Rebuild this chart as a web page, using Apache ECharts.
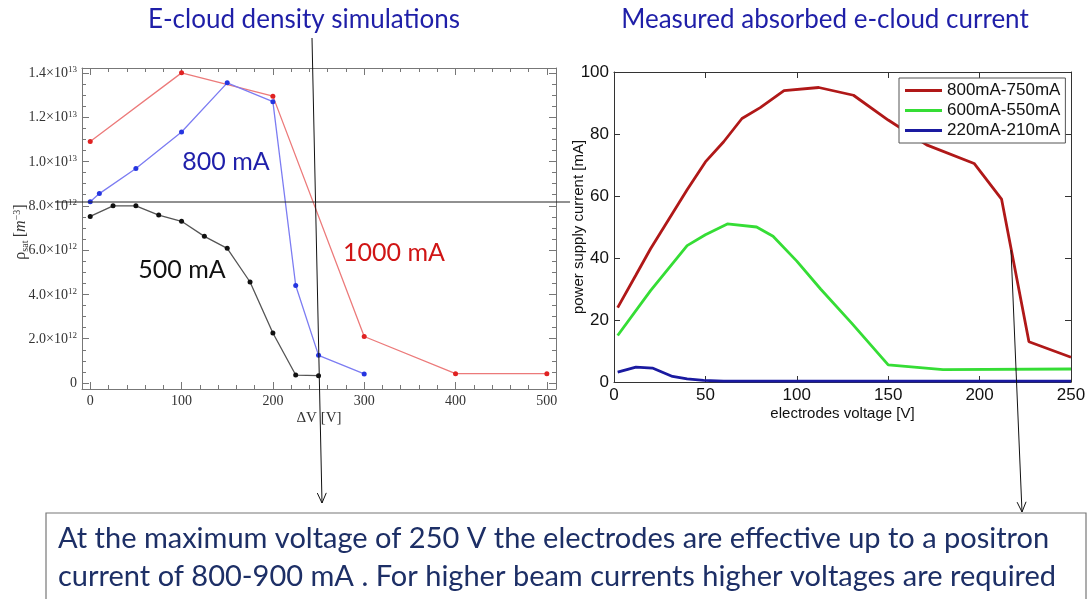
<!DOCTYPE html>
<html>
<head>
<meta charset="utf-8">
<script src="https://cdn.jsdelivr.net/npm/echarts@6/dist/echarts.min.js"></script>
<style>
  html, body { margin: 0; padding: 0; background: #fff; }
  #chart { width: 1089px; height: 599px; }
</style>
</head>
<body>
<div id="chart"></div>
<script>
// ---- Simulated e-cloud density (rho_sat in units of 1e12 m^-3) vs electrode voltage ----
const dv1000 = [0, 100, 200, 300, 400, 500];
const rho1000 = [10.9, 14.0, 12.95, 2.1, 0.42, 0.42];
const dv800 = [0, 10, 50, 100, 150, 200, 225, 250, 300];
const rho800 = [8.18, 8.55, 9.68, 11.33, 13.55, 12.7, 4.4, 1.25, 0.41];
const dv500 = [0, 25, 50, 75, 100, 125, 150, 175, 200, 225, 250];
const rho500 = [7.52, 8.0, 8.0, 7.58, 7.3, 6.62, 6.08, 4.56, 2.26, 0.36, 0.33];
const simTicksX = [0, 100, 200, 300, 400, 500];
const simTicksY = [0, 2, 4, 6, 8, 10, 12, 14];

// ---- Measured absorbed current [mA] vs electrodes voltage [V] ----
const u800 = [2, 12, 20, 30, 40, 50, 60, 70, 80, 93, 112, 131, 150, 171, 197, 212, 227, 250];
const i800 = [24, 34.5, 43, 52.5, 62, 71, 77.5, 85, 88.5, 94, 95, 92.5, 84.5, 76.5, 70.5, 59, 13, 8];
const u600 = [2, 20, 40, 50, 62, 78, 87, 100, 113, 130, 150, 180, 250];
const i600 = [15, 29.5, 44, 47.5, 51, 50, 47, 39, 30, 19, 5.5, 4, 4.2];
const u220 = [2, 12, 21, 32, 40, 49, 60, 250];
const i220 = [3.2, 4.8, 4.5, 1.8, 1.0, 0.5, 0.3, 0.3];
const measNames = ['800mA-750mA', '600mA-550mA', '220mA-210mA'];

const zip = (xs, ys) => xs.map((x, k) => [x, ys[k]]);
const range = (a, b, s) => { const r = []; for (let v = a; v <= b + 1e-9; v += s) r.push(+v.toFixed(6)); return r; };
const minorOf = (all, major) => all.filter(v => !major.some(m => Math.abs(m - v) < 1e-6));

const SERIF = '"Liberation Serif", "DejaVu Serif", serif';
const SANS = '"Liberation Sans", Arial, sans-serif';
const HUMAN = 'Lato, "Open Sans", sans-serif';

const frame = { lineStyle: { color: '#777', width: 1 } };

// Mathematica-style framed axes: inward major + minor ticks on all four sides
function simX(pos, labels, major, tickVals, len) {
  return {
    gridIndex: 0, type: 'value', position: pos, min: -9, max: 510,
    axisLine: Object.assign({ show: major, onZero: false }, frame),
    axisTick: { show: true, inside: true, length: len, customValues: tickVals, lineStyle: { color: '#777' } },
    axisLabel: labels ? { show: true, customValues: simTicksX, margin: 5, fontFamily: SERIF, fontSize: 14, color: '#333' } : { show: false },
    splitLine: { show: false },
    name: labels ? 'ΔV [V]' : '', nameLocation: 'middle', nameGap: 22, nameMoveOverlap: false,
    nameTextStyle: { fontFamily: SERIF, fontSize: 15, color: '#333' }
  };
}
function simY(pos, labels, major, tickVals, len) {
  return {
    gridIndex: 0, type: 'value', position: pos, min: -0.27, max: 14.22,
    axisLine: Object.assign({ show: major, onZero: false }, frame),
    axisTick: { show: true, inside: true, length: len, customValues: tickVals, lineStyle: { color: '#777' } },
    axisLabel: labels ? {
      show: true, customValues: simTicksY, margin: 5, color: '#333',
      formatter: v => {
        if (v === 0) return '{m|0}';
        const e = v >= 10 ? 13 : 12;
        const m = v >= 10 ? v / 10 : v;
        return '{m|' + m.toFixed(1) + '×10}{s|' + e + '}';
      },
      rich: {
        m: { fontFamily: SERIF, fontSize: 14, color: '#333', lineHeight: 15, verticalAlign: 'bottom' },
        s: { fontFamily: SERIF, fontSize: 9, color: '#333', lineHeight: 10, verticalAlign: 'top' }
      }
    } : { show: false },
    splitLine: { show: false }
  };
}
// MATLAB-style boxed axes: inward ticks on all four sides
function measX(pos, labels) {
  return {
    gridIndex: 1, type: 'value', position: pos, min: 0, max: 250, interval: 50,
    axisLine: { show: true, onZero: false, lineStyle: { color: '#333', width: 1 } },
    axisTick: { show: true, inside: true, length: 6, lineStyle: { color: '#333' } },
    axisLabel: labels ? { show: true, margin: 5, fontFamily: SANS, fontSize: 17, color: '#111' } : { show: false },
    splitLine: { show: false },
    name: labels ? 'electrodes voltage [V]' : '', nameLocation: 'middle', nameGap: 24, nameMoveOverlap: false,
    nameTextStyle: { fontFamily: SANS, fontSize: 15, color: '#111' }
  };
}
function measY(pos, labels) {
  return {
    gridIndex: 1, type: 'value', position: pos, min: 0, max: 100, interval: 20,
    axisLine: { show: true, onZero: false, lineStyle: { color: '#333', width: 1 } },
    axisTick: { show: true, inside: true, length: 6, lineStyle: { color: '#333' } },
    axisLabel: labels ? { show: true, margin: 5, fontFamily: SANS, fontSize: 17, color: '#111' } : { show: false },
    splitLine: { show: false },
    name: labels ? 'power supply current [mA]' : '', nameLocation: 'middle', nameGap: 28, nameMoveOverlap: false,
    nameTextStyle: { fontFamily: SANS, fontSize: 15, color: '#111' }
  };
}

const xAll = range(0, 500, 20), yAll = range(0, 14, 0.5);
const xMinor = minorOf(xAll, simTicksX), yMinor = minorOf(yAll, simTicksY);

const xAxis = [
  simX('bottom', true, true, simTicksX, 7),
  simX('bottom', false, false, xMinor, 4),
  simX('top', false, true, simTicksX, 7),
  simX('top', false, false, xMinor, 4),
  measX('bottom', true),
  measX('top', false)
];
const yAxis = [
  simY('left', true, true, simTicksY, 7),
  simY('left', false, false, yMinor, 4),
  simY('right', false, true, simTicksY, 7),
  simY('right', false, false, yMinor, 4),
  measY('left', true),
  measY('right', false)
];

function simSeries(name, xs, ys, lineColor, dotColor) {
  return {
    name, type: 'line', xAxisIndex: 0, yAxisIndex: 0, data: zip(xs, ys),
    symbol: 'circle', symbolSize: 5, showSymbol: true,
    lineStyle: { color: lineColor, width: 1.3 },
    itemStyle: { color: dotColor, borderWidth: 0 },
    z: 3
  };
}
function measSeries(name, xs, ys, color) {
  return {
    name, type: 'line', xAxisIndex: 4, yAxisIndex: 4, data: zip(xs, ys),
    symbol: 'none', showSymbol: false,
    lineStyle: { color, width: 2.8 }, itemStyle: { color },
    z: 3
  };
}

const TITLE_BLUE = '#1f1fa8';
const NOTE_BLUE = '#1d2f66';

function arrow(x1, y1, x2, y2) {
  const a = Math.atan2(y2 - y1, x2 - x1), L = 11, w = 0.42;
  return [
    { type: 'line', shape: { x1, y1, x2, y2 }, style: { stroke: '#111', lineWidth: 1 }, z: 10 },
    { type: 'polyline', shape: { points: [
        [x2 - L * Math.cos(a - w), y2 - L * Math.sin(a - w)], [x2, y2],
        [x2 - L * Math.cos(a + w), y2 - L * Math.sin(a + w)] ] },
      style: { stroke: '#111', lineWidth: 1, fill: null }, z: 10 }
  ];
}

const graphic = [
  { type: 'text', x: 304, y: 20, style: { text: 'E-cloud density simulations', fill: TITLE_BLUE, fontFamily: HUMAN, fontSize: 26, align: 'center', verticalAlign: 'middle' } },
  { type: 'text', x: 825, y: 20, style: { text: 'Measured absorbed e-cloud current', fill: TITLE_BLUE, fontFamily: HUMAN, fontSize: 26, align: 'center', verticalAlign: 'middle' } },
  { type: 'text', x: 226, y: 162, style: { text: '800 mA', fill: '#1f1faa', fontFamily: HUMAN, fontSize: 25, align: 'center', verticalAlign: 'middle' }, z: 5 },
  { type: 'text', x: 182, y: 270, style: { text: '500 mA', fill: '#111', fontFamily: HUMAN, fontSize: 25, align: 'center', verticalAlign: 'middle' }, z: 5 },
  { type: 'text', x: 394, y: 253, style: { text: '1000 mA', fill: '#d01515', fontFamily: HUMAN, fontSize: 25, align: 'center', verticalAlign: 'middle' }, z: 5 },
  { type: 'text', x: 21, y: 232, rotation: Math.PI / 2,
    style: {
      text: '{r|ρ}{b|sat} {r|[}{i|m}{p|−3}{r|]}', align: 'center', verticalAlign: 'middle',
      rich: {
        r: { fontFamily: SERIF, fontSize: 16, fill: '#333', lineHeight: 18, verticalAlign: 'middle' },
        i: { fontFamily: SERIF, fontStyle: 'italic', fontSize: 16, fill: '#333', lineHeight: 18, verticalAlign: 'middle' },
        b: { fontFamily: SERIF, fontSize: 10, fill: '#333', lineHeight: 8, verticalAlign: 'bottom' },
        p: { fontFamily: SERIF, fontSize: 10, fill: '#333', lineHeight: 8, verticalAlign: 'top' }
      }
    } },
  // reference level across the simulation plot
  { type: 'line', shape: { x1: 55, y1: 202, x2: 570, y2: 202 }, style: { stroke: '#222', lineWidth: 1 }, z: 10 },
  ...arrow(312, 38, 322, 503),
  ...arrow(1011, 250, 1022, 512),
  { type: 'rect', shape: { x: 46, y: 513, width: 1040, height: 100 }, style: { fill: '#fff', stroke: '#777', lineWidth: 1.2 }, z: 9 },
  { type: 'text', x: 58, y: 539, style: { text: 'At the maximum voltage of 250 V the electrodes are effective up to a positron', fill: NOTE_BLUE, fontFamily: HUMAN, fontSize: 29, verticalAlign: 'middle' }, z: 11 },
  { type: 'text', x: 58, y: 577, style: { text: 'current of 800-900 mA . For higher beam currents higher voltages are required', fill: NOTE_BLUE, fontFamily: HUMAN, fontSize: 29, verticalAlign: 'middle' }, z: 11 }
];

const chart = echarts.init(document.getElementById('chart'), null, { renderer: 'canvas' });
chart.setOption({
  backgroundColor: '#fff',
  animation: false,
  grid: [
    { left: 82, top: 68, width: 474, height: 321 },
    { left: 614, top: 72, width: 457, height: 310 }
  ],
  xAxis, yAxis,
  legend: {
    data: measNames, left: 899, top: 78, orient: 'vertical',
    itemWidth: 37, itemHeight: 3, itemGap: 3,
    padding: [4, 5, 4, 6],
    backgroundColor: '#fff', borderColor: '#555', borderWidth: 1,
    textStyle: { fontFamily: SANS, fontSize: 17, color: '#111' },
    icon: 'rect'
  },
  series: [
    simSeries('1000 mA', dv1000, rho1000, '#ec7a7a', '#e02222'),
    simSeries('800 mA', dv800, rho800, '#7c7cf2', '#2535e0'),
    simSeries('500 mA', dv500, rho500, '#555', '#111'),
    measSeries(measNames[0], u800, i800, '#b01818'),
    measSeries(measNames[1], u600, i600, '#35dd35'),
    measSeries(measNames[2], u220, i220, '#1a1aa0')
  ],
  graphic
});
</script>
</body>
</html>
